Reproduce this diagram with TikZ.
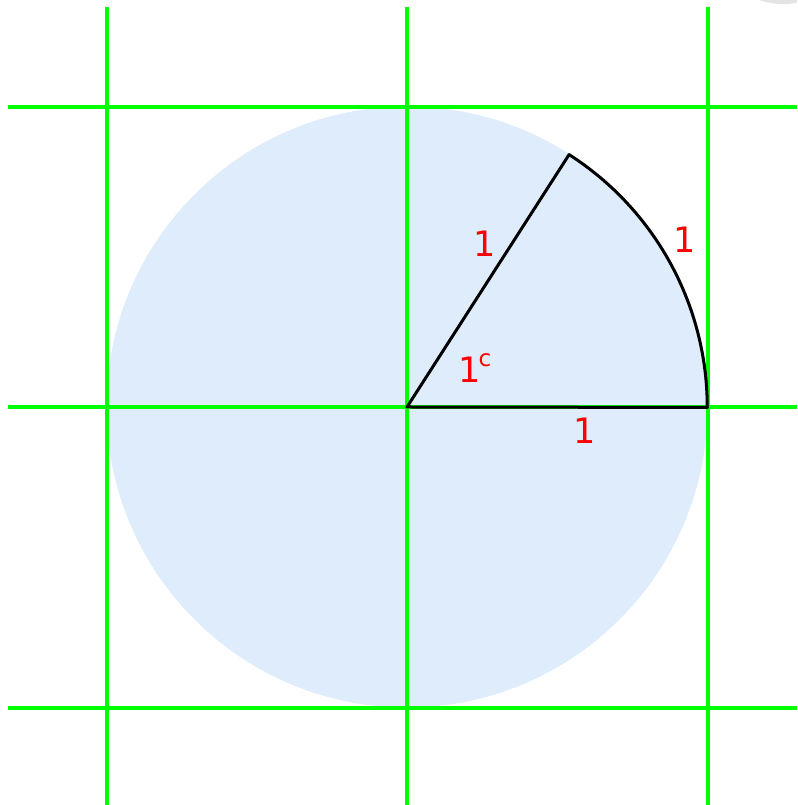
\documentclass[tikz,border=0pt]{standalone}
\usepackage{fontspec}
\setmainfont{DejaVu Sans}
\definecolor{disc}{RGB}{222,236,252}
\definecolor{gridg}{RGB}{0,255,0}
\definecolor{lab}{RGB}{255,0,0}
\tikzset{
  gridline/.style={draw=gridg, line width=3.5pt},
  edge/.style={draw=black, line width=3pt, line join=round},
  lbl/.style={text=lab, inner sep=0pt, font=\fontsize{35}{35}\selectfont},
  suplbl/.style={text=lab, inner sep=0pt, font=\fontsize{23}{23}\selectfont},
}
\begin{document}
\begin{tikzpicture}[x=1pt,y=1pt]
\useasboundingbox (0,0) rectangle (797,805);
% faint grey artifact top right
\begin{scope}
\clip (0,0) rectangle (797,805);
\fill[gray!22, rotate around={-10:(772,812)}] (772,812) ellipse[x radius=30, y radius=10];
\end{scope}
% disc
\coordinate (O) at (407,398);
\fill[disc] (O) circle[radius=300.5];
% grid
\coordinate (v1t) at (107,798); \coordinate (v1b) at (107,0);
\coordinate (v2t) at (407,798); \coordinate (v2b) at (407,0);
\coordinate (v3t) at (708,798); \coordinate (v3b) at (708,0);
\coordinate (h1l) at (8,698); \coordinate (h1r) at (797,698);
\coordinate (h2l) at (8,398); \coordinate (h2r) at (797,398);
\coordinate (h3l) at (8,97);  \coordinate (h3r) at (797,97);
\draw[gridline] (v1t) -- (v1b);
\draw[gridline] (v2t) -- (v2b);
\draw[gridline] (v3t) -- (v3b);
\draw[gridline] (h1l) -- (h1r);
\draw[gridline] (h2l) -- (h2r);
\draw[gridline] (h3l) -- (h3r);
% sector
\coordinate (P) at (569.1,650.4);
\coordinate (A) at (707.5,398);
\draw[edge] (O) -- (P) arc[start angle=57.2958, end angle=0, radius=300.5] -- cycle;
% labels
\node[lbl] (lr) at (485,561) {1};
\node[lbl] (la) at (685,565) {1};
\node[lbl] (lb) at (585,374) {1};
\node[lbl] (lt) at (470,435) {1};
\node[suplbl, anchor=west] (lc) at (478.5,444.5) {c};
\end{tikzpicture}
\end{document}
